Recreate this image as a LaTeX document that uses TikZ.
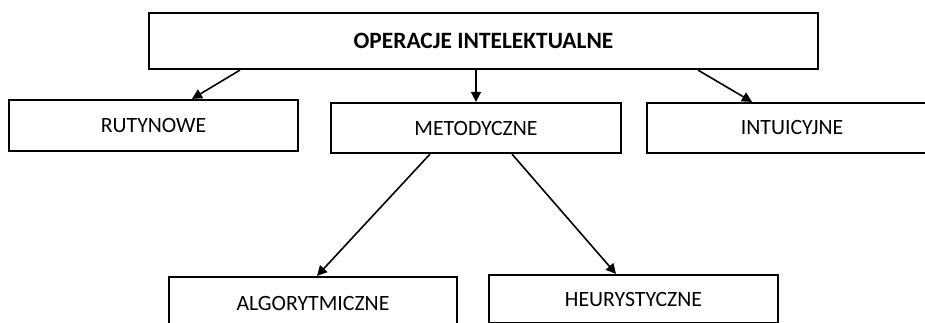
\documentclass[tikz,border=0pt]{standalone}
\usepackage{fontspec}
\setmainfont{Carlito}
\usetikzlibrary{arrows.meta}
\begin{document}
\begin{tikzpicture}[x=1pt,y=-1pt,
  box/.style={draw=black,line width=2.2pt,inner sep=0pt,minimum width=#1,
    font=\fontsize{21.8}{26}\selectfont,anchor=center},
  arr/.style={line width=1.6pt,-{Triangle[length=10pt,width=10pt]}}]
\useasboundingbox (0,0) rectangle (925,322);
\clip (0,0) rectangle (925,322);
\node[box=669pt,minimum height=56pt,font=\fontsize{23.4}{28}\selectfont\bfseries] (top) at (483.5,41) {OPERACJE INTELEKTUALNE};
\node[box=289pt,minimum height=51pt] (rut) at (153.5,125.5) {RUTYNOWE};
\node[box=290pt,minimum height=50pt] (met) at (476,128) {METODYCZNE};
\node[box=290pt,minimum height=50pt] (int) at (792,128) {INTUICYJNE};
\node[box=288pt,minimum height=52pt] (alg) at (313,303) {ALGORYTMICZNE};
\node[box=289pt,minimum height=48pt] (heu) at (633.5,299) {HEURYSTYCZNE};
\draw[arr] ([xshift=-243.5pt]top.south) -- ([xshift=38.5pt]rut.north);
\draw[arr] ([xshift=-7.5pt]top.south) -- (met.north);
\draw[arr] ([xshift=214.5pt]top.south) -- ([xshift=-40pt]int.north);
\draw[arr] ([xshift=-46pt]met.south) -- ([xshift=4pt]alg.north);
\draw[arr] ([xshift=36pt]met.south) -- ([xshift=-17.5pt]heu.north);
\end{tikzpicture}
\end{document}
